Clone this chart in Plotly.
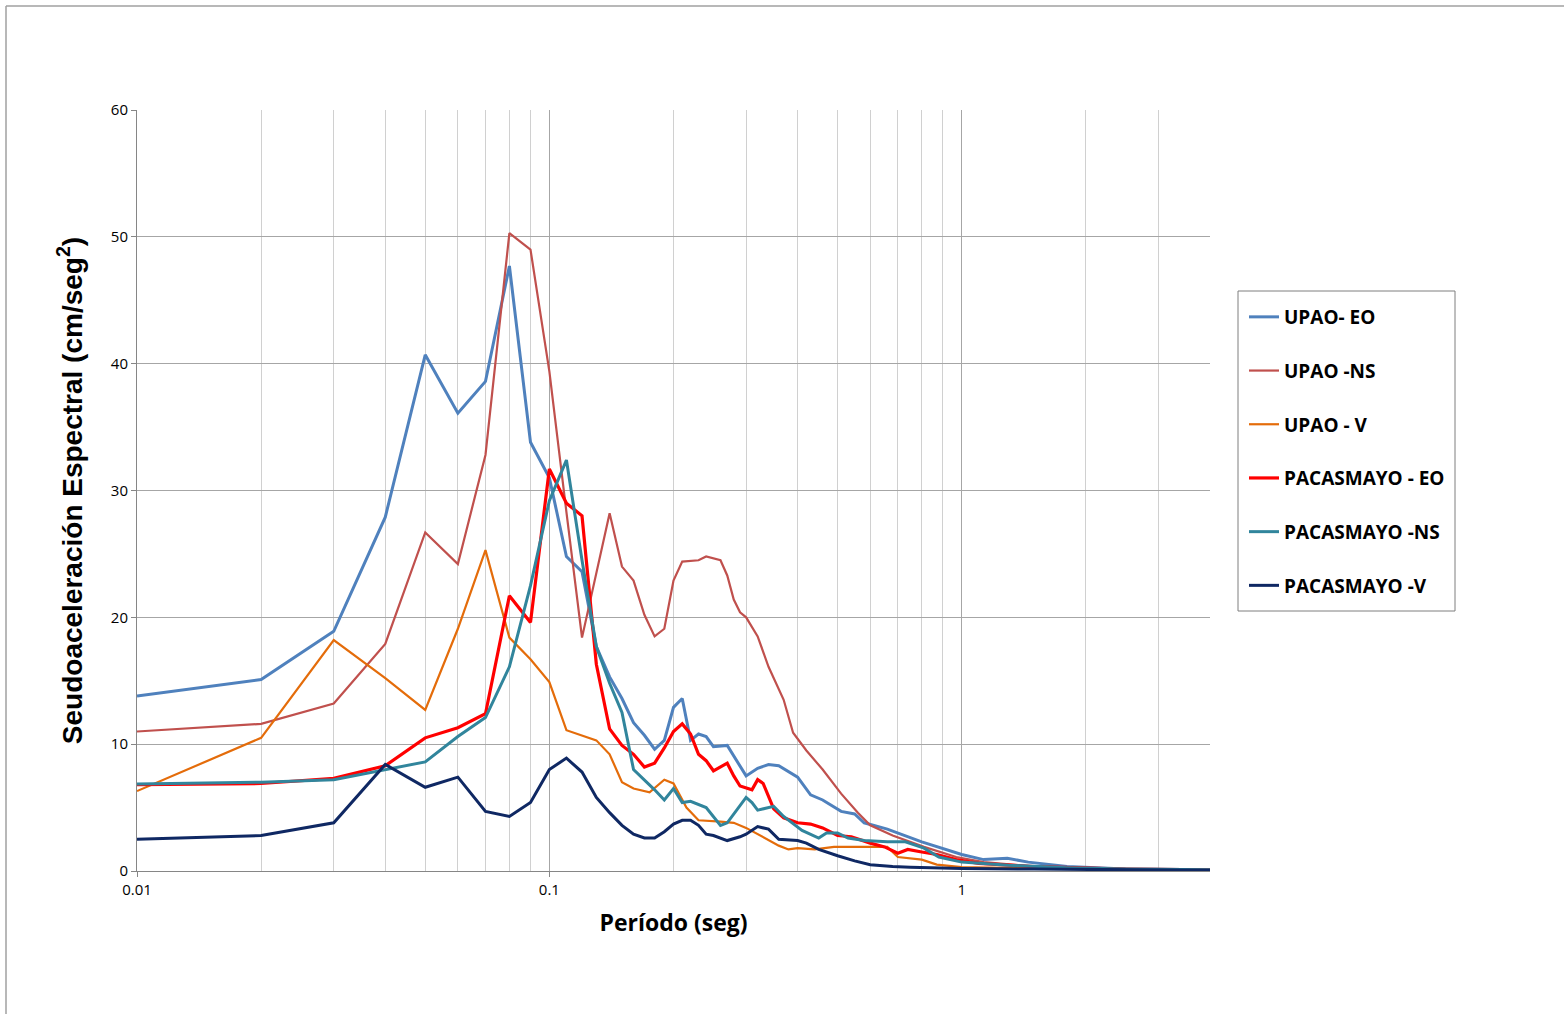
import plotly.graph_objects as go

# ---------------- data (period in s, pseudo-acceleration in cm/s^2) ----------------
upao_eo_T = [0.01, 0.02, 0.03, 0.04, 0.05, 0.06, 0.07, 0.08, 0.09, 0.10, 0.11, 0.12, 0.13,
             0.14, 0.15, 0.16, 0.17, 0.18, 0.19, 0.20, 0.21, 0.22, 0.23, 0.24, 0.25, 0.27,
             0.30, 0.32, 0.34, 0.36, 0.40, 0.43, 0.46, 0.51, 0.55, 0.58, 0.66, 0.70, 0.80,
             1.0, 1.13, 1.29, 1.45, 1.8, 2.5, 4.0]
upao_eo = [13.8, 15.1, 18.9, 27.9, 40.7, 36.1, 38.6, 47.7, 33.8, 31.0, 24.8, 23.6, 17.7,
           15.3, 13.6, 11.7, 10.7, 9.6, 10.3, 12.9, 13.6, 10.3, 10.8, 10.6, 9.8, 9.9,
           7.5, 8.1, 8.4, 8.3, 7.4, 6.0, 5.6, 4.7, 4.5, 3.8, 3.3, 3.0, 2.3,
           1.3, 0.9, 1.0, 0.7, 0.35, 0.15, 0.1]

upao_ns_T = [0.01, 0.02, 0.03, 0.04, 0.05, 0.06, 0.07, 0.08, 0.09, 0.10, 0.11, 0.12, 0.14,
             0.15, 0.16, 0.17, 0.18, 0.19, 0.20, 0.21, 0.23, 0.24, 0.26, 0.27, 0.28, 0.29,
             0.30, 0.32, 0.34, 0.37, 0.39, 0.42, 0.46, 0.51, 0.56, 0.60, 0.68, 0.81, 0.97,
             1.13, 1.5, 2.5, 4.0]
upao_ns = [11.0, 11.6, 13.2, 17.9, 26.7, 24.2, 32.8, 50.3, 49.0, 39.4, 28.3, 18.4, 28.2,
           24.0, 22.9, 20.2, 18.5, 19.1, 22.9, 24.4, 24.5, 24.8, 24.5, 23.3, 21.4, 20.4,
           20.0, 18.5, 16.1, 13.5, 10.9, 9.5, 8.0, 6.1, 4.6, 3.6, 2.8, 1.9, 1.1,
           0.7, 0.35, 0.15, 0.1]

upao_v_T = [0.01, 0.02, 0.03, 0.04, 0.05, 0.06, 0.07, 0.08, 0.09, 0.10, 0.11, 0.13, 0.14,
            0.15, 0.16, 0.175, 0.19, 0.20, 0.215, 0.23, 0.26, 0.28, 0.30, 0.33, 0.36,
            0.38, 0.40, 0.44, 0.49, 0.56, 0.66, 0.70, 0.80, 0.87, 1.0, 1.5, 2.5, 4.0]
upao_v = [6.3, 10.5, 18.2, 15.2, 12.7, 19.1, 25.3, 18.4, 16.7, 14.9, 11.1, 10.3, 9.2,
          7.0, 6.5, 6.2, 7.2, 6.9, 5.0, 4.0, 3.9, 3.8, 3.4, 2.7, 2.0,
          1.7, 1.8, 1.7, 1.9, 1.9, 1.9, 1.1, 0.9, 0.5, 0.3, 0.2, 0.1, 0.05]

pac_eo_T = [0.01, 0.02, 0.03, 0.04, 0.05, 0.06, 0.07, 0.08, 0.09, 0.10, 0.11, 0.12, 0.13,
            0.14, 0.15, 0.16, 0.17, 0.18, 0.19, 0.20, 0.21, 0.22, 0.23, 0.24, 0.25, 0.27,
            0.28, 0.29, 0.31, 0.32, 0.33, 0.35, 0.37, 0.40, 0.43, 0.46, 0.50, 0.54, 0.60,
            0.65, 0.70, 0.74, 0.80, 0.87, 0.97, 1.1, 1.5, 2.5, 4.0]
pac_eo = [6.8, 6.9, 7.3, 8.3, 10.5, 11.3, 12.4, 21.7, 19.6, 31.7, 29.0, 28.0, 16.3,
          11.2, 9.9, 9.2, 8.2, 8.5, 9.7, 11.0, 11.6, 10.8, 9.2, 8.7, 7.9, 8.5,
          7.5, 6.7, 6.4, 7.2, 6.9, 4.9, 4.2, 3.8, 3.7, 3.4, 2.8, 2.7, 2.2,
          1.9, 1.4, 1.7, 1.5, 1.3, 0.9, 0.6, 0.35, 0.15, 0.1]

pac_ns_T = [0.01, 0.02, 0.03, 0.04, 0.05, 0.06, 0.07, 0.08, 0.09, 0.10, 0.11, 0.12, 0.13,
            0.14, 0.15, 0.16, 0.17, 0.18, 0.19, 0.20, 0.21, 0.22, 0.24, 0.26, 0.27, 0.30,
            0.31, 0.32, 0.35, 0.37, 0.41, 0.45, 0.47, 0.50, 0.53, 0.58, 0.66, 0.73, 0.81,
            0.88, 1.0, 1.3, 1.8, 2.5, 4.0]
pac_ns = [6.85, 7.0, 7.2, 8.0, 8.6, 10.6, 12.1, 16.1, 22.5, 29.2, 32.4, 24.5, 17.7,
          14.8, 12.5, 8.0, 7.2, 6.4, 5.6, 6.5, 5.4, 5.5, 5.0, 3.6, 3.8, 5.8,
          5.4, 4.8, 5.1, 4.3, 3.2, 2.6, 3.0, 3.0, 2.6, 2.4, 2.3, 2.3, 1.8,
          1.1, 0.7, 0.45, 0.25, 0.15, 0.1]

pac_v_T = [0.01, 0.02, 0.03, 0.04, 0.05, 0.06, 0.07, 0.08, 0.09, 0.10, 0.11, 0.12, 0.13,
           0.14, 0.15, 0.16, 0.17, 0.18, 0.19, 0.20, 0.21, 0.22, 0.23, 0.24, 0.25, 0.27,
           0.29, 0.30, 0.32, 0.34, 0.36, 0.40, 0.42, 0.45, 0.50, 0.55, 0.60, 0.68, 0.75,
           1.0, 1.5, 2.5, 4.0]
pac_v = [2.5, 2.8, 3.8, 8.4, 6.6, 7.4, 4.7, 4.3, 5.4, 8.0, 8.9, 7.8, 5.8,
         4.6, 3.6, 2.9, 2.6, 2.6, 3.1, 3.7, 4.0, 4.0, 3.6, 2.9, 2.8, 2.4,
         2.7, 2.9, 3.5, 3.3, 2.5, 2.4, 2.2, 1.7, 1.2, 0.8, 0.5, 0.35, 0.3,
         0.2, 0.15, 0.08, 0.05]

series_names = ["UPAO- EO", "UPAO -NS", "UPAO - V", "PACASMAYO - EO", "PACASMAYO -NS", "PACASMAYO -V"]
series_T = [upao_eo_T, upao_ns_T, upao_v_T, pac_eo_T, pac_ns_T, pac_v_T]
series_Y = [upao_eo, upao_ns, upao_v, pac_eo, pac_ns, pac_v]
series_colors = ["#4F81BD", "#C0504D", "#E46C0A", "#FF0000", "#31859C", "#0F2863"]
series_widths = [3, 2.2, 2.2, 3.2, 3, 3]

x_tick_vals = [0.01, 0.1, 1]
x_tick_text = ["0.01", "0.1", "1"]
x_minor_vals = [0.02, 0.03, 0.04, 0.05, 0.06, 0.07, 0.08, 0.09,
                0.2, 0.3, 0.4, 0.5, 0.6, 0.7, 0.8, 0.9, 2, 3]
y_tick_vals = [0, 10, 20, 30, 40, 50, 60]

fig = go.Figure()
for i, (name, T, Y, c, w) in enumerate(zip(series_names, series_T, series_Y, series_colors, series_widths)):
    fig.add_trace(go.Scatter(x=T, y=Y, mode="lines", name=name, legendgroup=f"g{i}",
                             line=dict(color=c, width=w)))

W, H = 1564, 1014
L, R, T_, B = 137, 1210, 110, 871
def px(x):
    return (x - L) / (R - L)
def py(y):
    return (B - y) / (B - T_)

fig.update_layout(
    width=W, height=H,
    margin=dict(l=L, r=W - R, t=T_, b=H - B),
    paper_bgcolor="white", plot_bgcolor="white",
    showlegend=True,
    legend=dict(
        x=px(1244), y=py(298), xanchor="left", yanchor="top",
        bgcolor="rgba(0,0,0,0)", borderwidth=0,
        font=dict(family="Open Sans", size=19, color="black", weight="bold"),
        tracegroupgap=26, itemwidth=30,
    ),
    xaxis=dict(
        type="log", range=[-2, 0.6021],
        tickvals=x_tick_vals, ticktext=x_tick_text,
        ticks="outside", ticklen=5, tickcolor="#868686",
        showgrid=True, gridcolor="#A6A6A6", gridwidth=1,
        minor=dict(tickvals=x_minor_vals, showgrid=True, gridcolor="#D0D0D0", gridwidth=1, ticks=""),
        showline=True, linecolor="#868686", linewidth=1,
        tickfont=dict(family="Open Sans", size=15, color="black"),
        title=dict(text="Período (seg)", standoff=16,
                   font=dict(family="Open Sans", size=23, color="black", weight="bold")),
        zeroline=False,
    ),
    yaxis=dict(
        range=[0, 60], tickvals=y_tick_vals,
        ticks="outside", ticklen=5, tickcolor="#868686",
        showgrid=True, gridcolor="#A6A6A6", gridwidth=1,
        showline=True, linecolor="#868686", linewidth=1,
        tickfont=dict(family="Open Sans", size=15, color="black"),
        title=dict(text="Seudoaceleración Espectral (cm/seg<sup>2</sup>)", standoff=20,
                   font=dict(family="Liberation Sans", size=28, color="black", weight="bold")),
        zeroline=False,
    ),
    shapes=[
        dict(type="line", xref="paper", yref="paper", x0=px(6), x1=px(1564), y0=py(6), y1=py(6),
             line=dict(color="#A0A0A0", width=1.5)),
        dict(type="line", xref="paper", yref="paper", x0=px(6), x1=px(6), y0=py(6), y1=py(1014),
             line=dict(color="#A0A0A0", width=1.5)),
        dict(type="rect", xref="paper", yref="paper", x0=px(1238), x1=px(1455), y0=py(291), y1=py(611),
             line=dict(color="#7F7F7F", width=1), fillcolor="rgba(0,0,0,0)"),
    ],
)

fig.write_html("out.html")
